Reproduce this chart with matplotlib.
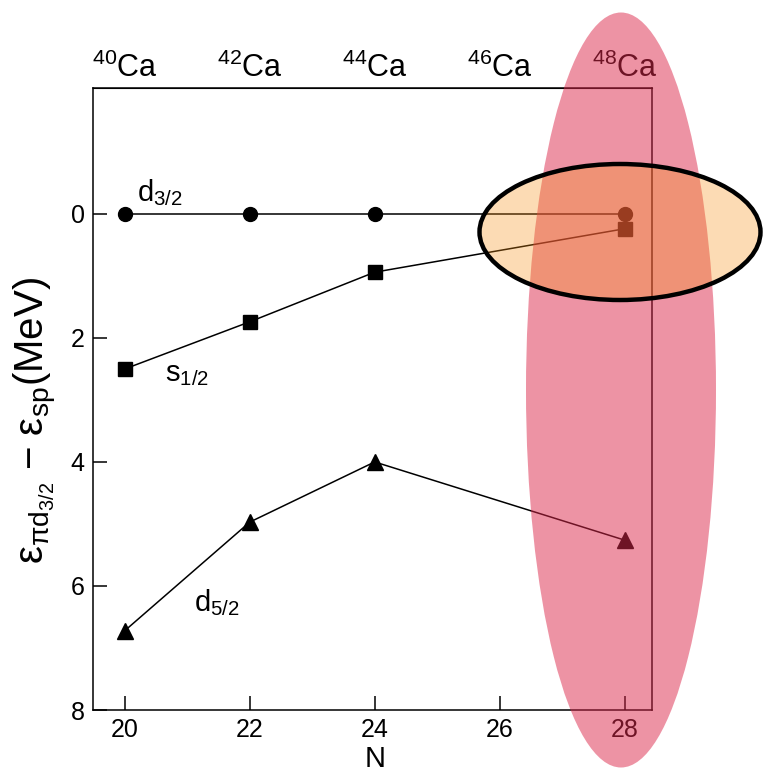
import matplotlib
matplotlib.use("Agg")
import matplotlib.pyplot as plt
from matplotlib.patches import Ellipse

plt.rcParams['font.family'] = ['Liberation Sans', 'DejaVu Sans']
plt.rcParams['mathtext.fontset'] = 'custom'
plt.rcParams['mathtext.rm'] = 'Liberation Sans'
plt.rcParams['mathtext.it'] = 'Liberation Sans:italic'

# Data
N = [20, 22, 24, 28]
d32 = [0.0, 0.0, 0.0, 0.0]
s12 = [2.5, 1.74, 0.94, 0.24]
d52 = [6.72, 4.97, 4.0, 5.26]
xticks = [20, 22, 24, 26, 28]
yticks = [0, 2, 4, 6, 8]
top_labels = [r'$\mathregular{^{40}}$Ca', r'$\mathregular{^{42}}$Ca', r'$\mathregular{^{44}}$Ca',
              r'$\mathregular{^{46}}$Ca', r'$\mathregular{^{48}}$Ca']

W, H = 764, 776
fig = plt.figure(figsize=(W / 100, H / 100), dpi=100)
ax = fig.add_axes([93 / W, 1 - 710 / H, (652 - 93) / W, (710 - 88) / H])

ax.plot(N, d32, '-o', color='black', lw=1.1, ms=10)
ax.plot(N, s12, '-s', color='black', lw=1.1, ms=10)
ax.plot(N, d52, '-^', color='black', lw=1.1, ms=11)

ax.set_xlim(19.49, 28.44)
ax.set_ylim(8, -2.03)
ax.set_xticks(xticks)
ax.set_yticks(yticks)
ax.tick_params(direction='in', length=10, width=1.1, labelsize=18, pad=6)
ax.tick_params(axis='y', pad=6)
for s in ax.spines.values():
    s.set_linewidth(1.1)

sec = ax.secondary_xaxis('top')
sec.set_xticks(xticks)
sec.set_xticklabels(top_labels)
sec.tick_params(length=0, labelsize=22, pad=3)

ax.set_xlabel('N', fontsize=21)
ax.xaxis.set_label_coords(0.5045, -0.057)
ax.set_ylabel(r'$\mathregular{\varepsilon_{\pi d_{3/2}}}$ $-$ $\mathregular{\varepsilon_{sp}}$(MeV)', fontsize=29)
ax.yaxis.set_label_coords(-0.06, 0.466)

ax.text(20.2, -0.1, r'd$\mathregular{_{3/2}}$', fontsize=21, ha='left', va='bottom')
ax.text(20.65, 2.58, r's$\mathregular{_{1/2}}$', fontsize=21, ha='left', va='center')
ax.text(21.1, 6.27, r'd$\mathregular{_{5/2}}$', fontsize=21, ha='left', va='center')

# Overlay highlights in figure pixel coordinates
ov = fig.add_axes([0, 0, 1, 1], zorder=5)
ov.set_xlim(0, W)
ov.set_ylim(H, 0)
ov.axis('off')
ov.patch.set_alpha(0)
ov.add_patch(Ellipse((621, 390), 190, 755, facecolor=(220 / 255, 40 / 255, 75 / 255), alpha=0.5, edgecolor='none'))
ov.add_patch(Ellipse((620, 232), 281, 136, facecolor=(246 / 255, 146 / 255, 22 / 255), alpha=0.32, edgecolor='none'))
ov.add_patch(Ellipse((620, 232), 281, 136, fill=False, edgecolor='black', lw=3.2))

fig.savefig('out.png', dpi=100)
